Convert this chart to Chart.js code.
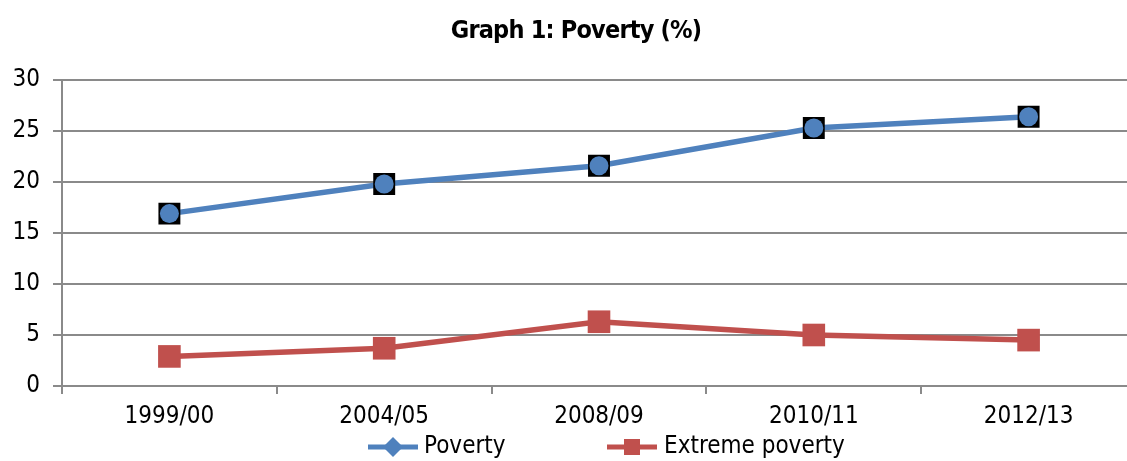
<!DOCTYPE html>
<html>
<head>
<meta charset="utf-8">
<script src="https://cdn.jsdelivr.net/npm/chart.js@4"></script>
<style>
  html, body { margin: 0; padding: 0; overflow: hidden; background: #fff; }
  #wrap { position: absolute; left: 0; top: 0; width: 1152px; height: 461px; }
</style>
</head>
<body>
<div id="wrap"><canvas id="c" width="1152" height="461"></canvas></div>
<script>
const categories = ["1999/00", "2004/05", "2008/09", "2010/11", "2012/13"];
const poverty = [16.9, 19.8, 21.6, 25.3, 26.4];
const extremePoverty = [2.9, 3.7, 6.3, 5.0, 4.5];
const yTicks = [0, 5, 10, 15, 20, 25, 30];
const seriesNames = ["Poverty", "Extreme poverty"];
const titleText = "Graph 1: Poverty (%)";

const BLUE = "#4f81bd";
const RED = "#c0504d";
const GRID = "#8a8a8a";
const FONT = "'DejaVu Sans Condensed', 'DejaVu Sans', sans-serif";

const titleSpacing = {
  id: "titleSpacing",
  beforeDraw(chart) { chart.ctx.letterSpacing = "0px"; }
};

const legendPlugin = {
  id: "customLegend",
  afterDraw(chart) {
    const ctx = chart.ctx;
    ctx.save();
    ctx.letterSpacing = "0px";
    const y = 447;
    ctx.strokeStyle = BLUE; ctx.lineWidth = 5;
    ctx.beginPath(); ctx.moveTo(368, y); ctx.lineTo(418, y); ctx.stroke();
    ctx.fillStyle = BLUE;
    ctx.beginPath();
    ctx.moveTo(393, y - 10); ctx.lineTo(403, y); ctx.lineTo(393, y + 10); ctx.lineTo(383, y);
    ctx.closePath(); ctx.fill();
    ctx.strokeStyle = RED;
    ctx.beginPath(); ctx.moveTo(607, y); ctx.lineTo(657, y); ctx.stroke();
    ctx.fillStyle = RED;
    ctx.fillRect(624, y - 8, 16, 16);
    ctx.fillStyle = "#000";
    ctx.font = "24px " + FONT;
    ctx.textBaseline = "middle";
    ctx.fillText(seriesNames[0], 424, y);
    ctx.fillText(seriesNames[1], 664, y);
    ctx.restore();
  }
};

const titlePlugin = {
  id: "customTitle",
  afterDraw(chart) {
    const ctx = chart.ctx;
    ctx.save();
    ctx.font = "bold 25px " + FONT;
    ctx.letterSpacing = "-0.8px";
    ctx.fillStyle = "#000";
    ctx.textAlign = "center";
    ctx.textBaseline = "middle";
    ctx.fillText(titleText, 576, 31);
    ctx.restore();
  }
};

new Chart(document.getElementById("c"), {
  type: "line",
  data: {
    labels: categories,
    datasets: [
      { label: seriesNames[0], data: poverty, borderColor: BLUE, borderWidth: 5.5,
        pointRadius: 0, fill: false, tension: 0, order: 3 },
      { label: "pov-sq", data: poverty, showLine: false, pointStyle: "rect",
        pointRadius: 15.5, pointBackgroundColor: "#000", pointBorderWidth: 0, order: 2 },
      { label: "pov-dot", data: poverty, showLine: false, pointStyle: "circle",
        pointRadius: 9.5, pointBackgroundColor: BLUE, pointBorderWidth: 0, order: 1 },
      { label: seriesNames[1], data: extremePoverty, borderColor: RED, borderWidth: 5.5,
        pointStyle: "rect", pointRadius: 16, pointBackgroundColor: RED, pointBorderWidth: 0,
        fill: false, tension: 0, order: 0 }
    ]
  },
  options: {
    responsive: false,
    animation: false,
    layout: { padding: { left: 0, right: 16, top: 80, bottom: 0 } },
    plugins: {
      legend: { display: false },
      tooltip: { enabled: false },
      title: { display: false }
    },
    scales: {
      x: {
        type: "category",
        offset: true,
        grid: { offset: true, drawOnChartArea: false, drawTicks: true, tickLength: 8, color: GRID, lineWidth: 2 },
        border: { color: GRID, width: 2 },
        ticks: { color: "#000", font: { family: FONT, size: 24 }, padding: 8, maxRotation: 0, autoSkip: false },
        afterFit(scale) { scale.height = 75; }
      },
      y: {
        min: 0, max: 30,
        afterBuildTicks(scale) { scale.ticks = yTicks.map(v => ({ value: v })); },
        grid: { color: GRID, lineWidth: 2, tickLength: 9 },
        border: { color: GRID, width: 2 },
        ticks: { color: "#000", font: { family: FONT, size: 24 }, padding: 13 },
        afterFit(scale) { scale.width = 62; }
      }
    }
  },
  plugins: [legendPlugin, titlePlugin]
});
</script>
</body>
</html>
